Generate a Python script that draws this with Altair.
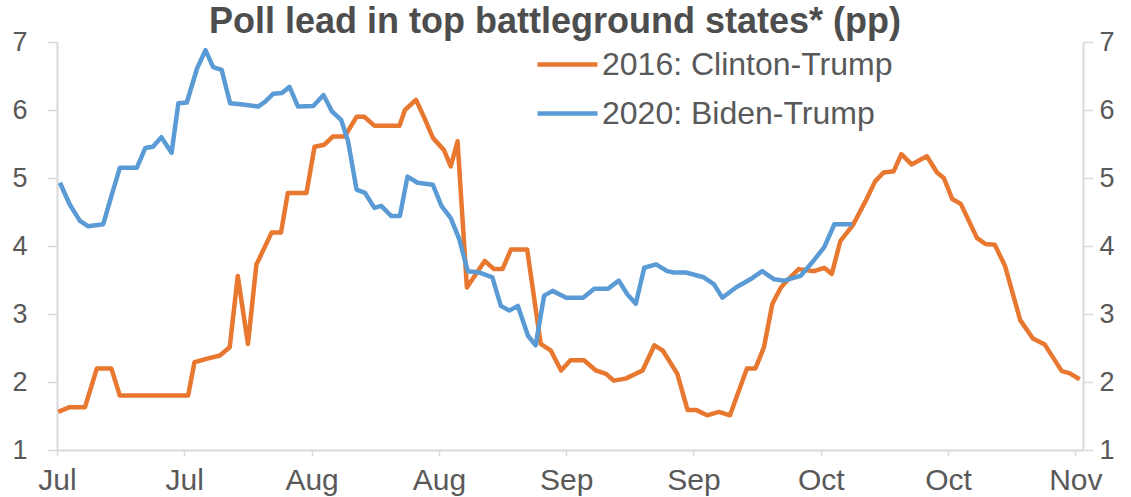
import altair as alt
import pandas as pd

# Days counted from the first x tick (first "Jul" tick)
orange_days = [0.15, 1.5, 3.3, 4.7, 6.4, 7.4, 15.45, 16.2, 17.6, 19.2, 20.35, 21.3, 22.5, 23.5, 23.7,
               25.3, 26.4, 27.2, 29.4, 30.35, 31.5, 32.5, 33.9, 35.3, 36.2, 37.4, 40.35, 41.0, 42.3,
               43.3, 44.3, 45.6, 46.4, 47.2, 48.3, 50.4, 51.5, 52.5, 53.5, 55.4, 57.0, 58.2, 59.4,
               60.5, 62.1, 63.5, 64.7, 65.6, 67.0, 69.0, 70.4, 71.4, 73.1, 74.3, 75.3, 76.6, 78.0,
               79.3, 81.3, 82.3, 83.3, 84.3, 85.3, 86.4, 87.4, 89.2, 90.4, 91.3, 92.3, 93.8, 95.4,
               96.4, 97.4, 98.6, 99.5, 100.7, 102.5, 103.7, 104.5, 105.5, 106.5, 108.4, 109.4,
               110.5, 111.7, 113.5, 115.0, 116.4, 118.4, 119.3, 120.5]
orange_vals = [1.56, 1.63, 1.63, 2.2, 2.2, 1.8, 1.8, 2.29, 2.34, 2.39, 2.51, 3.56, 2.56, 3.73, 3.78,
               4.2, 4.2, 4.78, 4.78, 5.46, 5.49, 5.61, 5.61, 5.9, 5.9, 5.77, 5.77, 6.0, 6.15,
               5.88, 5.59, 5.41, 5.17, 5.54, 3.39, 3.78, 3.66, 3.66, 3.95, 3.95, 2.56, 2.46, 2.17,
               2.32, 2.32, 2.17, 2.12, 2.02, 2.05, 2.17, 2.54, 2.46, 2.12, 1.59, 1.59, 1.51, 1.56,
               1.51, 2.2, 2.2, 2.51, 3.15, 3.39, 3.54, 3.66, 3.63, 3.68, 3.59, 4.07, 4.31, 4.69,
               4.95, 5.08, 5.1, 5.35, 5.2, 5.32, 5.08, 5.0, 4.69, 4.62, 4.12, 4.03,
               4.02, 3.71, 2.91, 2.64, 2.55, 2.16, 2.13, 2.04]

blue_days = [0.35, 1.5, 2.7, 3.7, 5.45, 6.4, 7.4, 9.4, 10.4, 11.3, 12.3, 13.5, 14.3, 15.3, 16.5,
             17.5, 18.4, 19.4, 20.4, 21.9, 23.7, 24.5, 25.5, 26.5, 27.4, 28.4, 30.2, 31.4, 32.4,
             33.5, 34.3, 35.3, 36.3, 37.4, 38.2, 39.4, 40.4, 41.3, 42.5, 44.3, 45.3, 46.4, 47.4,
             48.4, 49.8, 51.3, 52.3, 53.3, 54.3, 55.5, 56.4, 57.4, 58.4, 60.0, 62.0, 63.3, 64.9,
             66.2, 67.2, 68.2, 69.2, 70.6, 71.9, 72.7, 74.1, 76.2, 77.4, 78.4, 80.0, 81.7, 83.1,
             84.5, 85.7, 87.6, 88.8, 90.4, 91.6, 93.7]
blue_vals = [4.93, 4.61, 4.37, 4.29, 4.32, 4.73, 5.15, 5.15, 5.44, 5.46, 5.6, 5.37, 6.1, 6.11, 6.61,
             6.88, 6.63, 6.59, 6.1, 6.08, 6.05, 6.12, 6.24, 6.25, 6.34, 6.05, 6.06, 6.22, 5.98,
             5.85, 5.54, 4.83, 4.78, 4.56, 4.59, 4.44, 4.44, 5.02, 4.93, 4.9, 4.59, 4.41, 4.1,
             3.63, 3.61, 3.54, 3.12, 3.05, 3.12, 2.68, 2.54, 3.27, 3.34, 3.24, 3.24, 3.37, 3.37,
             3.49, 3.29, 3.15, 3.68, 3.73, 3.63, 3.61, 3.61, 3.54, 3.44, 3.24, 3.39, 3.51, 3.63,
             3.51, 3.49, 3.56, 3.73, 3.98, 4.32, 4.32]

series_names = ["2016: Clinton-Trump", "2020: Biden-Trump"]
series_colors = ["#E8772F", "#5A9BD5"]

tick_days = [0, 15, 30, 45, 60, 75, 90, 105, 120]
tick_labels = ["Jul", "Jul", "Aug", "Aug", "Sep", "Sep", "Oct", "Oct", "Nov"]
y_ticks = [1, 2, 3, 4, 5, 6, 7]

df = pd.concat([
    pd.DataFrame({"day": orange_days, "lead": orange_vals, "series": series_names[0], "order": range(len(orange_days))}),
    pd.DataFrame({"day": blue_days, "lead": blue_vals, "series": series_names[1], "order": range(len(blue_days))}),
])

label_expr = "[" + ",".join(f"'{t}'" for t in tick_labels) + "][indexof(" + \
    "[" + ",".join(str(d) for d in tick_days) + "], datum.value)]"

AX = "#D9D9D9"
TXT = "#595959"
FONT = "Liberation Sans"

xenc = alt.X("day:Q", scale=alt.Scale(domain=[0, 120.9], nice=False, zero=False),
             axis=alt.Axis(values=tick_days, labelExpr=label_expr, title=None, grid=False,
                           domainColor=AX, domainWidth=2, tickColor=AX, tickWidth=1.5, tickSize=6,
                           labelFontSize=30, labelColor=TXT, labelFont=FONT, labelPadding=9,
                           labelFlush=False))

lines = alt.Chart(df).mark_line(strokeWidth=4.5, strokeJoin="round").encode(
    x=xenc,
    y=alt.Y("lead:Q", scale=alt.Scale(domain=[1, 7], nice=False, zero=False),
            axis=alt.Axis(values=y_ticks, title=None, grid=False, orient="left",
                          domainColor=AX, domainWidth=2, tickColor=AX, tickWidth=1.5, tickSize=10,
                          labelFontSize=27, labelColor=TXT, labelFont=FONT, labelPadding=20)),
    color=alt.Color("series:N", scale=alt.Scale(domain=series_names, range=series_colors),
                    legend=alt.Legend(title=None, orient="none", legendX=478, legendY=-10,
                                      symbolType="stroke", symbolSize=3600, symbolStrokeWidth=4.5,
                                      labelFontSize=32, labelColor=TXT, labelFont=FONT,
                                      labelLimit=0, labelOffset=2, rowPadding=-17)),
    order="order:Q",
)

right = alt.Chart(df).mark_line(opacity=0).encode(
    x=xenc,
    y=alt.Y("lead:Q", scale=alt.Scale(domain=[1, 7], nice=False, zero=False),
            axis=alt.Axis(values=y_ticks, title=None, grid=False, orient="right",
                          domainColor=AX, domainWidth=2, tickColor=AX, tickWidth=1.5, tickSize=10,
                          labelFontSize=27, labelColor=TXT, labelFont=FONT, labelPadding=6)),
    detail="series:N",
)

chart = alt.layer(lines, right).resolve_scale(y="independent").properties(
    width=1026, height=408,
    title=alt.TitleParams("Poll lead in top battleground states* (pp)", fontSize=36, font=FONT,
                          fontWeight="bold", color="#4D4D4D", anchor="middle", dx=-15, dy=57, offset=8,
                          baseline="bottom"),
    autosize=alt.AutoSizeParams(type="none"),
    padding={"left": 57, "top": 42, "right": 48, "bottom": 47},
).configure_view(stroke=None)

chart.save("out.html", embed_options={"renderer": "svg", "actions": False})
